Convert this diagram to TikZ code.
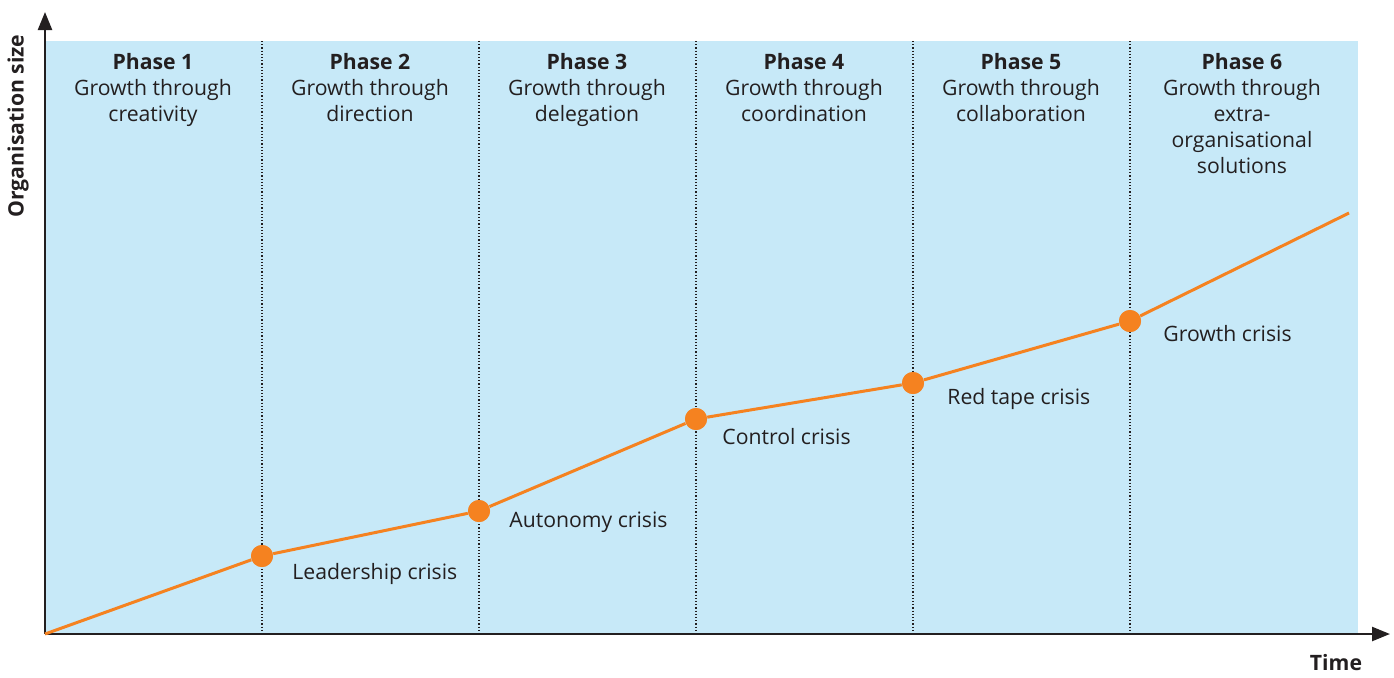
\documentclass[tikz,border=0pt]{standalone}
\usepackage{fontspec}
\setmainfont{Open Sans}
\usepackage{tikz}
\usetikzlibrary{positioning,arrows.meta}
\definecolor{phasebg}{HTML}{C7E9F8}
\definecolor{crisis}{HTML}{F58220}
\definecolor{ink}{HTML}{231F20}

\begin{document}
\begin{tikzpicture}[x=0.5pt,y=-0.5pt,font=\fontsize{10.6}{13}\selectfont,
  text=ink,>={Triangle[length=9pt,width=7pt]}]
% ---- styles ----
\tikzstyle{phase}=[align=center,anchor=north,inner sep=0pt]
\tikzstyle{sep}=[draw=ink,densely dotted,line width=0.6pt]
\tikzstyle{dot}=[circle,fill=crisis,inner sep=0pt,minimum size=11pt]
\tikzstyle{crisislbl}=[anchor=west,inner sep=0pt]
\tikzstyle{growth}=[draw=crisis,line width=1.5pt]

\useasboundingbox (0,0) rectangle (1394,677);

% ---- background panel ----
\fill[phasebg] (45,41) rectangle (1358,634);

% ---- phase dividers ----
\draw[sep] (262,41) -- (262,634);
\draw[sep] (479,41) -- (479,634);
\draw[sep] (696,41) -- (696,634);
\draw[sep] (913,41) -- (913,634);
\draw[sep] (1130,41) -- (1130,634);

% ---- axes ----
\coordinate (O) at (45,634);
\coordinate (ytip) at (45,12);
\coordinate (xtip) at (1390,634);
\draw[->,draw=ink,line width=1.2pt] (O) -- (ytip);
\draw[->,draw=ink,line width=1.2pt] (O) -- (xtip);
\node[rotate=90,font=\fontsize{10.6}{12}\selectfont\bfseries] (ylbl) at (18,126) {Organisation size};
\node[font=\fontsize{10.6}{12}\selectfont\bfseries] (xlbl) at (1336,663) {Time};

% ---- phase headings ----
\node[phase] (p1) at (153,53) {\textbf{Phase 1}\\Growth through\\creativity};
\node[phase] (p2) at (370,53) {\textbf{Phase 2}\\Growth through\\direction};
\node[phase] (p3) at (587,53) {\textbf{Phase 3}\\Growth through\\delegation};
\node[phase] (p4) at (804,53) {\textbf{Phase 4}\\Growth through\\coordination};
\node[phase] (p5) at (1021,53) {\textbf{Phase 5}\\Growth through\\collaboration};
\node[phase] (p6) at (1242,53) {\textbf{Phase 6}\\Growth through\\extra-\\organisational\\solutions};

% ---- crisis points ----
\node[dot] (c1) at (262,556) {};
\node[dot] (c2) at (479,511) {};
\node[dot] (c3) at (696,419) {};
\node[dot] (c4) at (913,383) {};
\node[dot] (c5) at (1130,321) {};
\coordinate (gend) at (1349,213);

\draw[growth] (O) -- (c1) -- (c2) -- (c3) -- (c4) -- (c5) -- (gend);
\node[dot] at (c1) {};
\node[dot] at (c2) {};
\node[dot] at (c3) {};
\node[dot] at (c4) {};
\node[dot] at (c5) {};

% ---- crisis labels ----
\node[crisislbl] (l1) at (292,574) {Leadership crisis};
\node[crisislbl] (l2) at (509,522) {Autonomy crisis};
\node[crisislbl] (l3) at (722,437) {Control crisis};
\node[crisislbl] (l4) at (947,399) {Red tape crisis};
\node[crisislbl] (l5) at (1163,334) {Growth crisis};

\end{tikzpicture}
\end{document}
